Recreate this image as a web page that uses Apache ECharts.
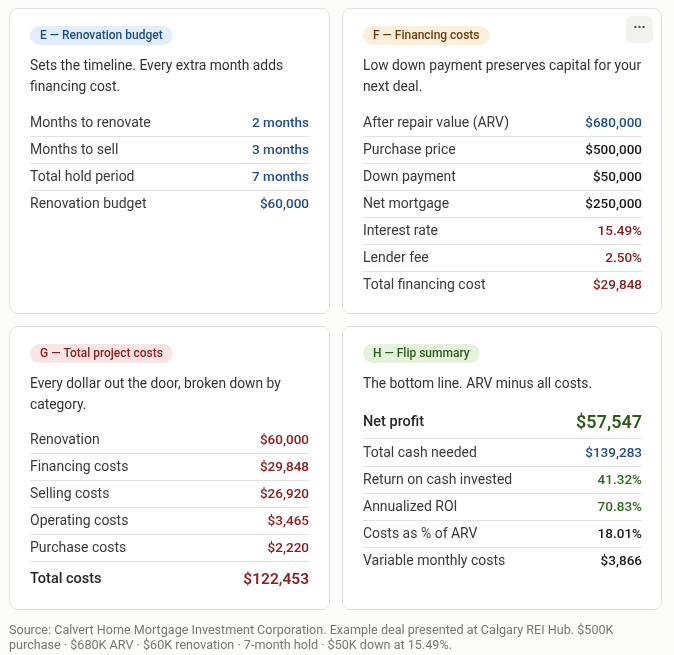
<!DOCTYPE html>
<html>
<head>
<meta charset="utf-8">
<script src="https://cdn.jsdelivr.net/npm/echarts@6/dist/echarts.min.js"></script>
<style>
html, body { margin: 0; padding: 0; background: #fcfcfa; }
#main { width: 674px; height: 655px; }
</style>
</head>
<body>
<div id="main"></div>
<script>
// card E - renovation budget
var eLabels = ['Months to renovate', 'Months to sell', 'Total hold period', 'Renovation budget'];
var eValues = ['2 months', '3 months', '7 months', '$60,000'];

// card F - financing costs
var fLabels = ['After repair value (ARV)', 'Purchase price', 'Down payment', 'Net mortgage', 'Interest rate', 'Lender fee', 'Total financing cost'];
var fValues = ['$680,000', '$500,000', '$50,000', '$250,000', '15.49%', '2.50%', '$29,848'];

// card G - total project costs
var gLabels = ['Renovation', 'Financing costs', 'Selling costs', 'Operating costs', 'Purchase costs'];
var gValues = ['$60,000', '$29,848', '$26,920', '$3,465', '$2,220'];
var gTotalLabel = ['Total costs'];
var gTotalValue = ['$122,453'];

// card H - flip summary
var hTopLabel = ['Net profit'];
var hTopValue = ['$57,547'];
var hLabels = ['Total cash needed', 'Return on cash invested', 'Annualized ROI', 'Costs as % of ARV', 'Variable monthly costs'];
var hValues = ['$139,283', '41.32%', '70.83%', '18.01%', '$3,866'];

// colour of each value, per row
var eTone = ['blue', 'blue', 'blue', 'blue'];
var fTone = ['blue', 'dark', 'dark', 'dark', 'red', 'red', 'red'];
var gTone = ['red', 'red', 'red', 'red', 'red'];
var hTone = ['blue', 'green', 'green', 'dark', 'dark'];

var FONT = 'Roboto, "Liberation Sans", sans-serif';
var COLORS = { blue: '#1f4e89', dark: '#1a1a1a', red: '#8a1f22', green: '#2f6a1e', profit: '#2c5c1a' };
var NUDGE = 0.5; // keep values on the same baseline as the axis labels

var grids = [], xAxes = [], yAxes = [], series = [];

function addTable(box, labels, values, tones, opts) {
    var idx = grids.length;
    grids.push({ left: box.left, top: box.top, width: box.width, height: box.rowH * labels.length });
    xAxes.push({ gridIndex: idx, type: 'value', min: 0, max: 1, show: false });
    yAxes.push({
        gridIndex: idx, type: 'category', data: labels, inverse: true,
        axisLine: { show: false }, axisTick: { show: false }, splitLine: { show: false },
        axisLabel: {
            align: 'left', margin: 0, color: opts.labelColor || '#3a3a3a',
            fontSize: opts.labelSize || 14, fontWeight: opts.labelWeight || 400, fontFamily: FONT
        }
    });
    series.push({
        type: 'custom', xAxisIndex: idx, yAxisIndex: idx, silent: true,
        data: values.map(function (v, i) { return [1, i]; }),
        renderItem: function (params, api) {
            var i = params.dataIndex;
            var right = api.coord([1, i]);
            var left = api.coord([0, i]);
            var h = api.size([0, 1])[1];
            var kids = [{
                type: 'text',
                style: {
                    text: values[i], x: right[0], y: right[1] + NUDGE,
                    align: 'right', verticalAlign: 'middle',
                    textAlign: 'right', textVerticalAlign: 'middle',
                    fill: COLORS[tones[i]], fontSize: opts.valueSize || 13.5,
                    fontWeight: opts.valueWeight || 500, fontFamily: FONT
                }
            }];
            if (i < values.length - 1 || opts.lineAfterLast) {
                var y = Math.floor(right[1] + h / 2) + 0.5;
                kids.push({ type: 'line', shape: { x1: left[0], y1: y, x2: right[0], y2: y }, style: { stroke: '#e1e1e1', lineWidth: 1 } });
            }
            return { type: 'group', children: kids };
        }
    });
}

addTable({ left: 30, top: 109.5, width: 279, rowH: 27 }, eLabels, eValues, eTone, {});
addTable({ left: 363, top: 109.5, width: 279, rowH: 27 }, fLabels, fValues, fTone, {});
addTable({ left: 30, top: 426.5, width: 279, rowH: 27 }, gLabels, gValues, gTone, { lineAfterLast: true });
addTable({ left: 30, top: 565.5, width: 279, rowH: 28 }, gTotalLabel, gTotalValue, ['red'],
    { labelColor: '#262626', labelSize: 14.5, labelWeight: 500, valueSize: 15.5, valueWeight: 600 });
addTable({ left: 363, top: 406.5, width: 279, rowH: 32 }, hTopLabel, hTopValue, ['profit'],
    { labelColor: '#262626', labelSize: 14.5, labelWeight: 500, valueSize: 18, valueWeight: 600, lineAfterLast: true });
addTable({ left: 363, top: 439.5, width: 279, rowH: 27 }, hLabels, hValues, hTone, {});

function card(x, y, w, h) {
    return { type: 'rect', z: -1, shape: { x: x, y: y, width: w, height: h, r: 8 }, style: { fill: '#ffffff', stroke: '#e0e0e0', lineWidth: 1 } };
}
function badge(x, y, text, bg, fg) {
    return {
        type: 'text', x: x, y: y,
        style: {
            text: text, fill: fg, backgroundColor: bg, padding: [4, 10], borderRadius: 10,
            fontSize: 12, lineHeight: 11, fontWeight: 500, fontFamily: FONT,
            verticalAlign: 'middle', textVerticalAlign: 'middle'
        }
    };
}
function para(x, y, text) {
    return {
        type: 'text', x: x, y: y,
        style: { text: text, fill: '#333333', fontSize: 13.8, lineHeight: 21, fontFamily: FONT, verticalAlign: 'top', textVerticalAlign: 'top' }
    };
}

var graphics = [
    card(9.5, 8.5, 320, 305),
    card(342.5, 8.5, 319, 305),
    card(9.5, 326.5, 320, 283),
    card(342.5, 326.5, 319, 283),
    badge(30, 35.5, 'E — Renovation budget', '#e4eefa', '#1d4d84'),
    badge(363, 35.5, 'F — Financing costs', '#fbeedb', '#6a3d12'),
    badge(30, 353.5, 'G — Total project costs', '#fbe5e4', '#8a2224'),
    badge(363, 353.5, 'H — Flip summary', '#e5f2dc', '#2e5c1d'),
    para(30, 56.5, 'Sets the timeline. Every extra month adds\nfinancing cost.'),
    para(363, 56.5, 'Low down payment preserves capital for your\nnext deal.'),
    para(30, 374.5, 'Every dollar out the door, broken down by\ncategory.'),
    para(363, 374.5, 'The bottom line. ARV minus all costs.'),
    { type: 'rect', shape: { x: 626, y: 16, width: 27, height: 27, r: 6 }, style: { fill: '#f4f2ee' } },
    { type: 'text', x: 639.5, y: 28, style: { text: '···', fill: '#444', fontSize: 14, fontWeight: 700, fontFamily: FONT, align: 'center', verticalAlign: 'middle', textAlign: 'center', textVerticalAlign: 'middle' } },
    {
        type: 'text', x: 9, y: 623.5,
        style: {
            text: 'Source: Calvert Home Mortgage Investment Corporation. Example deal presented at Calgary REI Hub. $500K\npurchase · $680K ARV · $60K renovation · 7-month hold · $50K down at 15.49%.',
            fill: '#777777', fontSize: 12.6, lineHeight: 15, fontFamily: FONT, verticalAlign: 'top', textVerticalAlign: 'top'
        }
    }
];

var chart = echarts.init(document.getElementById('main'));
chart.setOption({
    backgroundColor: '#fcfcfa',
    animation: false,
    grid: grids,
    xAxis: xAxes,
    yAxis: yAxes,
    graphic: graphics,
    series: series
});
</script>
</body>
</html>
